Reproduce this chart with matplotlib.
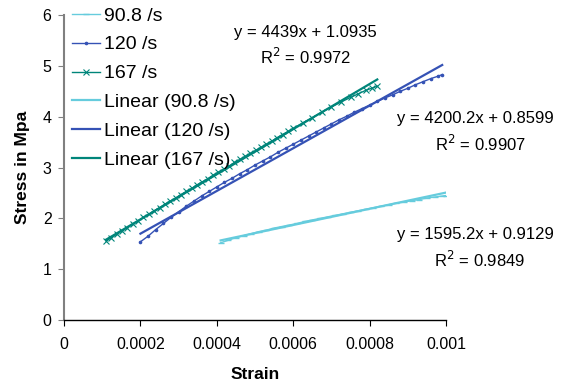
import matplotlib
matplotlib.use("Agg")
import matplotlib.pyplot as plt
import numpy as np

plt.rcParams['font.family'] = ['Liberation Sans', 'DejaVu Sans']

# ---- data ----
strain_908 = [0.00041, 0.00043, 0.00045, 0.00047, 0.00049, 0.00051, 0.00053, 0.00055,
              0.00057, 0.00059, 0.00061, 0.00063, 0.00065, 0.00067, 0.00069, 0.00071,
              0.00073, 0.00075, 0.00077, 0.00079, 0.00081, 0.00083, 0.00085, 0.00087,
              0.00089, 0.00091, 0.00093, 0.00095, 0.00097, 0.00099, 0.00100]
stress_908 = [1.52, 1.57, 1.62, 1.66, 1.70, 1.74, 1.77, 1.81,
              1.84, 1.87, 1.90, 1.94, 1.97, 2.00, 2.03, 2.06,
              2.09, 2.12, 2.15, 2.18, 2.21, 2.24, 2.27, 2.30,
              2.32, 2.35, 2.37, 2.40, 2.42, 2.44, 2.45]

strain_120 = [0.00020, 0.00022, 0.00024, 0.00026, 0.00028, 0.00030, 0.00032, 0.00034,
              0.00036, 0.00038, 0.00040, 0.00042, 0.00044, 0.00046, 0.00048, 0.00050,
              0.00052, 0.00054, 0.00056, 0.00058, 0.00060, 0.00062, 0.00064, 0.00066,
              0.00068, 0.00070, 0.00072, 0.00074, 0.00076, 0.00078, 0.00080, 0.00082,
              0.00084, 0.00086, 0.00088, 0.00090, 0.00092, 0.00094, 0.00096, 0.00098,
              0.00099]
stress_120 = [1.54, 1.65, 1.78, 1.90, 2.02, 2.13, 2.24, 2.34,
              2.44, 2.53, 2.62, 2.71, 2.79, 2.88, 2.96, 3.05,
              3.13, 3.21, 3.30, 3.38, 3.46, 3.54, 3.62, 3.70,
              3.78, 3.86, 3.94, 4.01, 4.09, 4.16, 4.23, 4.30,
              4.37, 4.43, 4.50, 4.56, 4.63, 4.69, 4.75, 4.80,
              4.83]

strain_167 = [0.000110, 0.000124, 0.000138, 0.000152, 0.000166, 0.000180, 0.000194, 0.000208,
              0.000222, 0.000236, 0.000250, 0.000264, 0.000278, 0.000292, 0.000306, 0.000320,
              0.000334, 0.000348, 0.000362, 0.000376, 0.000390, 0.000404, 0.000418, 0.000432,
              0.000446, 0.000460, 0.000474, 0.000488, 0.000502, 0.000516, 0.000530, 0.000544,
              0.000558, 0.000572, 0.000586, 0.000600, 0.000625, 0.000650, 0.000675, 0.000700,
              0.000725, 0.000750, 0.000770, 0.000790, 0.000805, 0.000820]
stress_167 = [1.56, 1.62, 1.69, 1.76, 1.82, 1.89, 1.95, 2.02,
              2.08, 2.15, 2.21, 2.28, 2.34, 2.40, 2.47, 2.53,
              2.59, 2.66, 2.72, 2.78, 2.85, 2.91, 2.97, 3.03,
              3.10, 3.16, 3.22, 3.28, 3.34, 3.40, 3.46, 3.52,
              3.59, 3.65, 3.71, 3.77, 3.88, 3.98, 4.09, 4.19,
              4.29, 4.38, 4.45, 4.52, 4.56, 4.60]

# trendline coefficients (slope, intercept, R^2)
fit_908 = (1595.2, 0.9129, 0.9849)
fit_120 = (4200.2, 0.8599, 0.9907)
fit_167 = (4439.0, 1.0935, 0.9972)

labels = ["90.8 /s", "120 /s", "167 /s"]
eq_labels = ["y = 1595.2x + 0.9129", "y = 4200.2x + 0.8599", "y = 4439x + 1.0935"]
r2_labels = ["R$^2$ = 0.9849", "R$^2$ = 0.9907", "R$^2$ = 0.9972"]
x_ticks = [0, 0.0002, 0.0004, 0.0006, 0.0008, 0.001]
x_tick_labels = ["0", "0.0002", "0.0004", "0.0006", "0.0008", "0.001"]
y_ticks = [0, 1, 2, 3, 4, 5, 6]

c_908 = '#66CCDD'
c_120 = '#3552B5'
c_167 = '#00857A'

fig = plt.figure(figsize=(5.77, 3.87), dpi=100)
ax = fig.add_axes([0.111, 0.173, 0.662, 0.788])

h1, = ax.plot(strain_908, stress_908, color=c_908, lw=1.0, marker='_', ms=4, mew=1.0)
h2, = ax.plot(strain_120, stress_120, color=c_120, lw=1.0, marker='o', ms=1.6)
h3, = ax.plot(strain_167, stress_167, color=c_167, lw=1.0, marker='x', ms=4.5, mew=0.8)

def trend(xs, fit, color):
    x0, x1 = min(xs), max(xs)
    xx = np.array([x0, x1])
    return ax.plot(xx, fit[0] * xx + fit[1], color=color, lw=1.6)[0]

t1 = trend(strain_908, fit_908, c_908)
t2 = trend(strain_120, fit_120, c_120)
t3 = trend(strain_167, fit_167, c_167)

ax.set_xlim(0, 0.001)
ax.set_ylim(0, 6)
ax.set_xticks(x_ticks)
ax.set_xticklabels(x_tick_labels)
ax.set_yticks(y_ticks)
ax.tick_params(axis='both', labelsize=11.5, direction='out', length=4)
ax.tick_params(axis='x', pad=8)
ax.tick_params(axis='y', color='#808080', pad=5)
ax.spines['top'].set_visible(False)
ax.spines['right'].set_visible(False)
ax.spines['left'].set_color('#808080')
ax.spines['left'].set_linewidth(1.5)
ax.spines['bottom'].set_linewidth(1.0)

ax.set_xlabel("Strain", fontsize=12.5, fontweight='bold', labelpad=11)
ax.set_ylabel("Stress in Mpa", fontsize=12.5, fontweight='bold', labelpad=9)

txt = dict(ha='center', va='center', fontsize=12, clip_on=False)
ax.text(0.000631, 5.65, eq_labels[2], **txt)
ax.text(0.000631, 5.17, r2_labels[2], **txt)
ax.text(0.001076, 3.97, eq_labels[1], **txt)
ax.text(0.001089, 3.46, r2_labels[1], **txt)
ax.text(0.001076, 1.69, eq_labels[0], **txt)
ax.text(0.001089, 1.18, r2_labels[0], **txt)

leg = fig.legend([h1, h2, h3, t1, t2, t3],
                 labels + ["Linear (%s)" % l for l in labels],
                 loc='upper left', bbox_to_anchor=(0.125, 0.982), frameon=False,
                 fontsize=14, handlelength=1.45, handletextpad=0.2, labelspacing=0.58,
                 borderaxespad=0, borderpad=0)

fig.savefig("out.png", dpi=100)
